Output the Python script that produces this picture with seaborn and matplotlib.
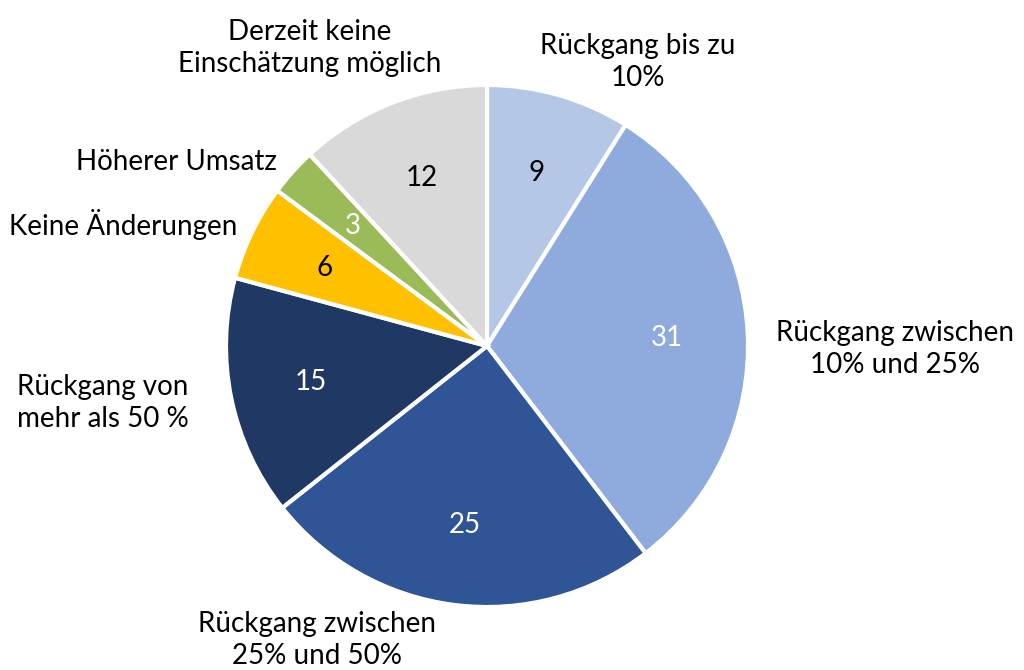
import matplotlib.pyplot as plt
import seaborn as sns

# 데이터
kategorien = ['Rückgang bis zu\n10%', 'Rückgang zwischen\n10% und 25%', 'Rückgang zwischen\n25% und 50%',
              'Rückgang von\nmehr als 50 %', 'Keine Änderungen', 'Höherer Umsatz',
              'Derzeit keine\nEinschätzung möglich']
werte = [9, 31, 25, 15, 6, 3, 12]
farben = ['#B4C7E7', '#8FAADC', '#2F5597', '#203864', '#FFC000', '#9BBB59', '#D9D9D9']
textfarben = ['black', 'white', 'white', 'white', 'black', 'white', 'black']

sns.set_theme(style='white')
plt.rcParams['font.family'] = ['Lato', 'DejaVu Sans']

fig = plt.figure(figsize=(10.24, 6.7), dpi=100)
ax = fig.add_axes([0, 0, 1, 1])

summe = sum(werte)
wedges, texts, autotexts = ax.pie(
    werte, colors=sns.color_palette(farben), startangle=90, counterclock=False,
    autopct=lambda p: f'{round(p * summe / 100):d}', pctdistance=0.69,
    wedgeprops=dict(edgecolor='white', linewidth=3),
    textprops=dict(fontsize=20), radius=1)
for t, c in zip(autotexts, textfarben):
    t.set_color(c)

# 파이 중심 (487,346) 반지름 261px 기준 좌표계 (pie 뒤에 설정)
cx, cy, r = 487, 346, 261
ax.set_xlim(-cx / r, (1024 - cx) / r)
ax.set_ylim((cy - 670) / r, cy / r)
ax.set_aspect('equal')
ax.axis('off')

# 라벨 위치 (픽셀)
label_pos = [(638, 62, 'center'), (895, 349, 'center'), (317, 640, 'center'),
             (103, 403, 'center'), (237, 225, 'right'), (277, 162, 'right'),
             (310, 48, 'center')]
for name, (px, py, ha) in zip(kategorien, label_pos):
    ax.text((px - cx) / r, (cy - py) / r, name, ha=ha, va='center',
            fontsize=20, color='black', linespacing=1.3, multialignment='center')

fig.savefig('out.png', dpi=100)
